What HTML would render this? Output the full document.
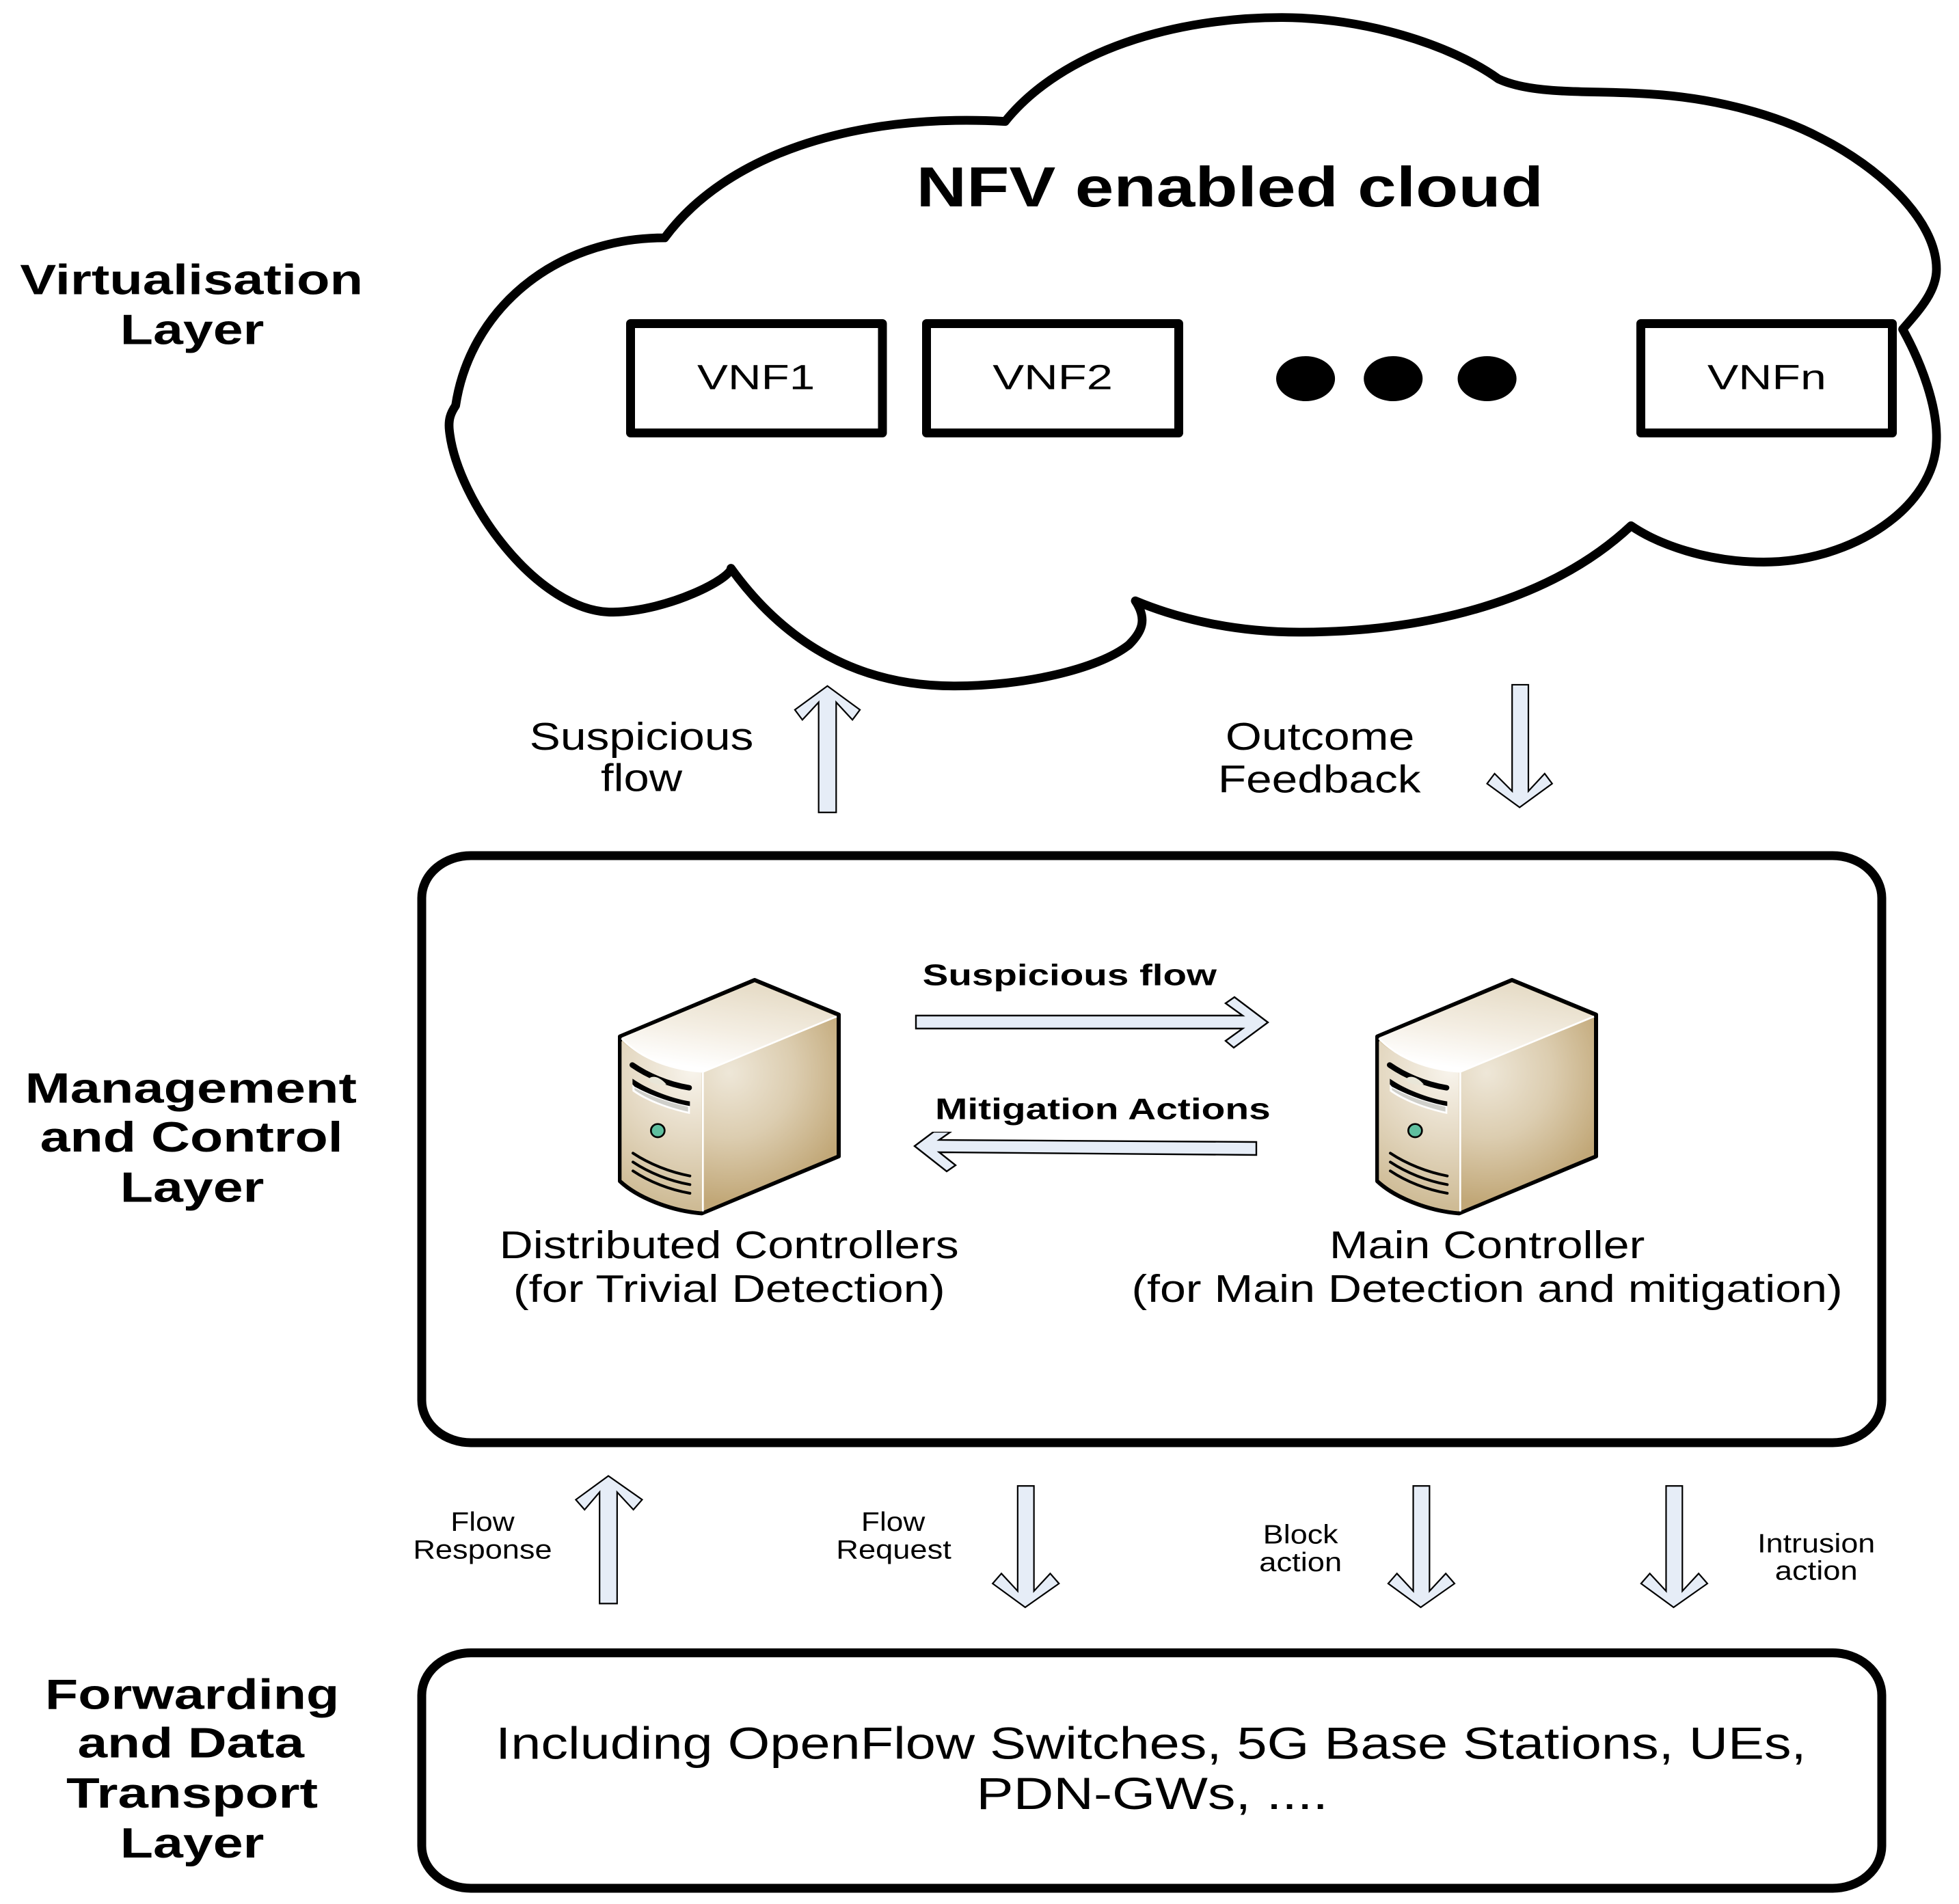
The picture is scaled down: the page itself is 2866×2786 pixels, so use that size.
<!DOCTYPE html>
<html><head><meta charset="utf-8"><style>
html,body{margin:0;padding:0;background:#fff}
svg{display:block}
text{font-family:"Liberation Sans",Arial,sans-serif;fill:#000}
.b{font-weight:bold}
</style></head><body>
<svg xmlns="http://www.w3.org/2000/svg" width="2866" height="2786" viewBox="0 0 2866 2786">
<defs>
<linearGradient id="gt" gradientUnits="userSpaceOnUse" x1="560" y1="80" x2="500" y2="470"><stop offset="0" stop-color="#e6dcc7"/><stop offset=".55" stop-color="#f4eee3"/><stop offset="1" stop-color="#fff"/></linearGradient>
<radialGradient id="gr" gradientUnits="userSpaceOnUse" cx="560" cy="480" r="570"><stop offset="0" stop-color="#eee7d8"/><stop offset=".5" stop-color="#dccdb0"/><stop offset="1" stop-color="#c1a777"/></radialGradient>
<radialGradient id="gf" gradientUnits="userSpaceOnUse" cx="400" cy="470" r="640"><stop offset="0" stop-color="#f8f4ec"/><stop offset=".5" stop-color="#e3d7c0"/><stop offset="1" stop-color="#cbb78f"/></radialGradient>
<g id="srv">
<path d="M672,72 L1041,224 L1041,846 L440,1096 C300,1085 155,1025 81,955 L81,320 Z" fill="#d8c8a8" stroke="#000" stroke-width="18" stroke-linejoin="round"/>
<path d="M88,325 L672,82 L1032,232 L445,475 C300,465 170,415 88,325 Z" fill="url(#gt)"/>
<path d="M448,478 L1032,232 L1032,840 L448,1085 Z" fill="url(#gr)"/>
<path d="M88,340 C170,415 300,465 440,478 L440,1088 C300,1075 170,1020 88,950 Z" fill="url(#gf)"/>
<path d="M88,328 C170,415 300,465 445,475 L445,1088 M445,475 L1032,232" fill="none" stroke="#fff" stroke-width="8"/>
<path d="M135,445 C200,490 290,530 385,545" fill="none" stroke="#000" stroke-width="24" stroke-linecap="round"/>
<path d="M205,510 C215,490 250,490 285,530 C250,535 215,525 205,510 Z" fill="#e9e6d8"/>
<path d="M136,505 C200,550 300,590 388,605 L388,660 C290,640 190,600 136,560 Z" fill="#fff"/>
<path d="M136,505 C200,550 300,590 388,605 L388,625 C300,610 210,575 145,540 L136,530 Z" fill="#000"/>
<path d="M145,545 C210,580 300,612 380,628 L380,650 C290,630 200,595 145,555 Z" fill="#cfcfca"/>
<ellipse cx="247" cy="733" rx="30" ry="29" fill="#5fbf9f" stroke="#000" stroke-width="8"/>
<path d="M138,832 C210,880 300,915 388,932 M138,871 C210,919 300,954 388,970 M138,910 C210,958 300,993 388,1008" fill="none" stroke="#000" stroke-width="12" stroke-linecap="round"/>
</g>
</defs>
<rect width="2866" height="2786" fill="#fff"/>
<g transform="scale(1.8313,1.8317)">
<!-- cloud -->
<path d="M531,190 C579,125 679,90 803,97 C849,40 939,14 1024,14 C1089,14 1158,35 1197,63 C1225,76 1270,72 1316,75 C1370,78 1420,92 1454,110 C1500,133 1547,175 1547,215 C1547,233 1533,248 1520,263 C1535,290 1548,325 1547,352 C1546,405 1480,449 1409,449 C1364,449 1325,435 1303,420 C1239,480 1139,505 1038,505 C988,505 943,495 907,480 C917,495 912,505 902,515 C877,535 817,548 762,548 C687,548 628,515 584,454 C584,462 535,488 490,489 C430,490 365,400 359,344 C358,335 360,330 364,324 C375,250 440,190 531,190 Z" fill="#fff" stroke="#000" stroke-width="7" stroke-linejoin="round"/>
<ellipse cx="1043" cy="302.5" rx="23.5" ry="18"/>
<ellipse cx="1113" cy="302.5" rx="23.5" ry="18"/>
<ellipse cx="1188" cy="302.5" rx="23.5" ry="18"/>
<!-- vertical arrows -->
<g fill="#e6edf7" stroke="#000" stroke-width="1.2">
<g transform="translate(-2,-1)">
<polygon points="656,650 670,650 670,562 683,576 689,568 663,549 637,568 643,576 656,562"/>
<polygon points="1210,548 1223,548 1223,633 1236,619 1242,627 1216,646 1190,627 1196,619 1210,633"/>
</g>
<g transform="translate(-1,-2)">
<polygon points="480,1283 494,1283 494,1194 507,1208 514,1200 487,1181 461,1200 468,1208 480,1194"/>
</g>
<g transform="translate(-2,-2)">
<polygon points="815,1189 828,1189 828,1273 841,1259 848,1267 821,1286 795,1267 802,1259 815,1273"/>
<polygon points="1131,1189 1144,1189 1144,1273 1157,1259 1164,1267 1137,1286 1111,1267 1118,1259 1131,1273"/>
<polygon points="1333,1189 1346,1189 1346,1273 1359,1259 1366,1267 1339,1286 1313,1267 1320,1259 1333,1273"/>
</g>
</g>
</g>
<!-- boxes in pixel coordinates -->
<g fill="#fff" stroke="#000" stroke-width="13" stroke-linejoin="round">
<rect x="922.5" y="473.5" width="368.5" height="160"/>
<rect x="1355.5" y="473.5" width="369" height="160"/>
<rect x="2400.5" y="473.5" width="368" height="160"/>
<rect x="617" y="1252" width="2136" height="859" rx="72" ry="62"/>
<rect x="617" y="2418.5" width="2136" height="344.5" rx="72" ry="62"/>
</g>
<!-- horizontal arrows in pixel coordinates -->
<g fill="#e6edf7" stroke="#000" stroke-width="2.4">
<polygon points="1340,1486 1818,1486 1793,1468 1806,1459 1855,1496 1805,1533 1793,1523 1818,1505 1340,1505"/>
<polygon points="1338,1677 1366,1656 1391,1656 1374,1668 1838,1671 1838,1690 1374,1686 1398,1705 1385,1714"/>
</g>
<rect x="1360" y="1650" width="40" height="6" fill="#fff"/>
<!-- servers -->
<use href="#srv" transform="translate(880,1410) scale(.33333)"/>
<use href="#srv" transform="translate(1988,1410) scale(.33333)"/>
<g transform="scale(1.8313,1.8317)">
<text class="b" x="732" y="165" font-size="45" textLength="501" lengthAdjust="spacingAndGlyphs">NFV enabled cloud</text>
<text x="557" y="311" font-size="28" textLength="94" lengthAdjust="spacingAndGlyphs">VNF1</text>
<text x="793" y="311" font-size="28" textLength="96" lengthAdjust="spacingAndGlyphs">VNF2</text>
<text x="1364" y="311" font-size="28" textLength="95" lengthAdjust="spacingAndGlyphs">VNFn</text>
<!-- layer labels -->
<text class="b" x="16" y="235" font-size="34" textLength="274" lengthAdjust="spacingAndGlyphs">Virtualisation</text>
<text class="b" x="96" y="275" font-size="34" textLength="115" lengthAdjust="spacingAndGlyphs">Layer</text>
<text class="b" x="20" y="881" font-size="34" textLength="265" lengthAdjust="spacingAndGlyphs">Management</text>
<text class="b" x="32" y="920" font-size="34" textLength="242" lengthAdjust="spacingAndGlyphs">and Control</text>
<text class="b" x="96" y="960" font-size="34" textLength="115" lengthAdjust="spacingAndGlyphs">Layer</text>
<text class="b" x="36" y="1365" font-size="34" textLength="235" lengthAdjust="spacingAndGlyphs">Forwarding</text>
<text class="b" x="62" y="1404" font-size="34" textLength="181" lengthAdjust="spacingAndGlyphs">and Data</text>
<text class="b" x="53" y="1444" font-size="34" textLength="201" lengthAdjust="spacingAndGlyphs">Transport</text>
<text class="b" x="96" y="1484" font-size="34" textLength="115" lengthAdjust="spacingAndGlyphs">Layer</text>
<!-- labels between layers -->
<text x="423" y="599" font-size="31" textLength="179" lengthAdjust="spacingAndGlyphs">Suspicious</text>
<text x="480" y="632" font-size="31" textLength="65" lengthAdjust="spacingAndGlyphs">flow</text>
<text x="979" y="599" font-size="31" textLength="151" lengthAdjust="spacingAndGlyphs">Outcome</text>
<text x="973" y="633" font-size="31" textLength="162" lengthAdjust="spacingAndGlyphs">Feedback</text>
<text class="b" x="737" y="787" font-size="24" textLength="235" lengthAdjust="spacingAndGlyphs">Suspicious flow</text>
<text class="b" x="747" y="894" font-size="24" textLength="268" lengthAdjust="spacingAndGlyphs">Mitigation Actions</text>
<text x="399" y="1005" font-size="31" textLength="367" lengthAdjust="spacingAndGlyphs">Distributed Controllers</text>
<text x="410" y="1040" font-size="31" textLength="345" lengthAdjust="spacingAndGlyphs">(for Trivial Detection)</text>
<text x="1062" y="1005" font-size="31" textLength="252" lengthAdjust="spacingAndGlyphs">Main Controller</text>
<text x="904" y="1040" font-size="31" textLength="568" lengthAdjust="spacingAndGlyphs">(for Main Detection and mitigation)</text>
<!-- small labels -->
<text x="360" y="1223" font-size="21" textLength="51" lengthAdjust="spacingAndGlyphs">Flow</text>
<text x="330" y="1245" font-size="21" textLength="111" lengthAdjust="spacingAndGlyphs">Response</text>
<text x="688" y="1223" font-size="21" textLength="51" lengthAdjust="spacingAndGlyphs">Flow</text>
<text x="668" y="1245" font-size="21" textLength="92" lengthAdjust="spacingAndGlyphs">Request</text>
<text x="1009" y="1233" font-size="21" textLength="60" lengthAdjust="spacingAndGlyphs">Block</text>
<text x="1006" y="1255" font-size="21" textLength="66" lengthAdjust="spacingAndGlyphs">action</text>
<text x="1404" y="1240" font-size="21" textLength="94" lengthAdjust="spacingAndGlyphs">Intrusion</text>
<text x="1418" y="1262" font-size="21" textLength="66" lengthAdjust="spacingAndGlyphs">action</text>
<!-- bottom text -->
<text x="396" y="1405" font-size="36" textLength="1047" lengthAdjust="spacingAndGlyphs">Including OpenFlow Switches, 5G Base Stations, UEs,</text>
<text x="780" y="1445" font-size="36" textLength="281" lengthAdjust="spacingAndGlyphs">PDN-GWs, ....</text>
</g>
</svg>
</body></html>
